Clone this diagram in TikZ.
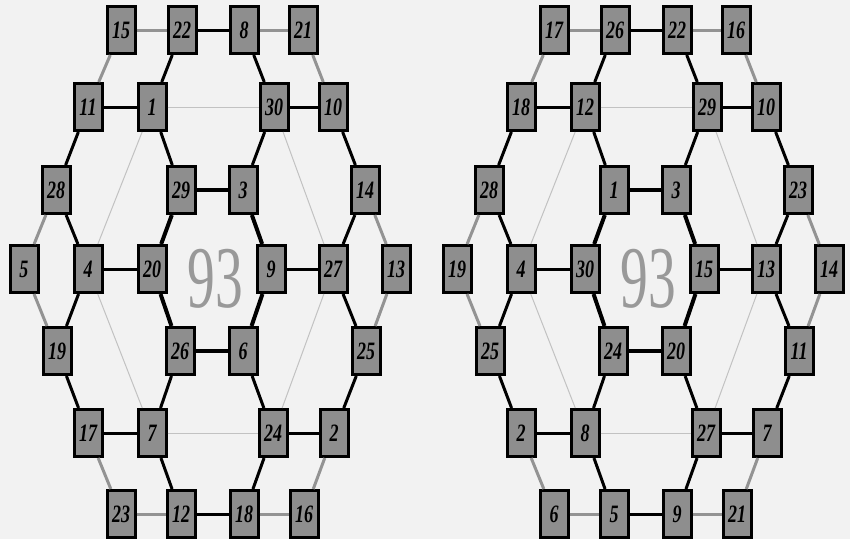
\documentclass[tikz,border=0pt]{standalone}
\usepackage{fontspec}
\usepackage{graphicx}
\setmainfont{Liberation Serif}
\usetikzlibrary{positioning}
\definecolor{cB}{HTML}{F2F2F2}
\definecolor{cG}{HTML}{8E8E8E}
\definecolor{cR}{HTML}{939393}
\definecolor{cT}{HTML}{C2C2C2}
\definecolor{cN}{HTML}{999999}
\newcommand{\lbl}[1]{\scalebox{0.72}[1]{\bfseries\itshape #1}}
\tikzset{
  cell/.style={draw=black,line width=3pt,fill=cG,minimum width=28pt,
               minimum height=47pt,inner sep=0pt,font=\fontsize{25}{25}\selectfont},
  bond/.style={line width=3pt,black},
  core/.style={line width=4pt,black},
  rim/.style={line width=3pt,cR},
  chord/.style={line width=1pt,cT},
  bignum/.style={cN,font=\fontsize{88}{88}\selectfont,inner sep=0pt,anchor=base},
}
\begin{document}
\begin{tikzpicture}[x=1pt,y=-1pt]
  \path[fill=cB,use as bounding box] (0,0) rectangle (850,539);
  % slot / x / y / left label / right label
  \foreach \s/\x/\y/\p/\q in {1/121/30/15/17,2/182/30/22/26,3/244/30/8/22,4/303/30/21/16,
      5/88/107/11/18,6/152/107/1/12,7/274/107/30/29,8/333/107/10/10,
      9/56/190/28/28,10/181/190/29/1,11/243/190/3/3,12/365/190/14/23,
      13/24/269/5/19,14/88/269/4/4,15/152/269/20/30,16/271/269/9/15,17/333/269/27/13,18/396/269/13/14,
      19/57/351/19/25,20/180/351/26/24,21/243/351/6/20,22/366/351/25/11,
      23/88/433/17/2,24/152/433/7/8,25/273/433/24/27,26/334/433/2/7,
      27/121/514/23/6,28/181/514/12/5,29/244/514/18/9,30/304/514/16/21}{
     \node[cell] (a\s) at (\x,\y) {\lbl{\p}};
     \node[cell] (b\s) at (\x+433,\y) {\lbl{\q}};
  }
  \foreach \g in {a,b}{
     \foreach \i/\j in {1/2,3/4,1/5,4/8,9/13,12/18,13/19,18/22,23/27,26/30,27/28,29/30}{
        \draw[rim] (\g\i) -- (\g\j);
     }
     \foreach \i/\j in {2/3,2/6,3/7,5/6,7/8,5/9,6/10,7/11,8/12,9/14,12/17,14/15,16/17,
                        14/19,17/22,19/23,20/24,21/25,22/26,23/24,25/26,24/28,25/29,28/29}{
        \draw[bond] (\g\i) -- (\g\j);
     }
     \foreach \i/\j in {10/11,11/16,16/21,20/21,15/20,10/15}{
        \draw[core] (\g\i) -- (\g\j);
     }
     \foreach \i/\j in {6/7,6/14,7/17,14/24,17/25,24/25}{
        \draw[chord] (\g\i) -- (\g\j);
     }
  }
  \node[bignum] (na) at (215,307) {\scalebox{0.63}[1]{93}};
  \node[bignum] (nb) at (648,307) {\scalebox{0.63}[1]{93}};
\end{tikzpicture}
\end{document}
